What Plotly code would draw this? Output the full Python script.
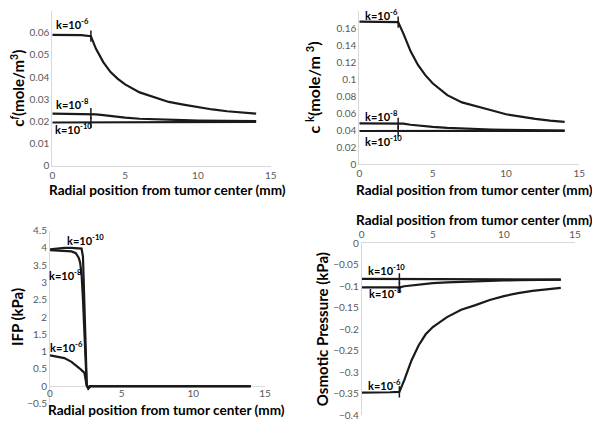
import plotly.graph_objects as go

# ---------------- data ----------------
x_c = [0, 1, 2, 2.65, 3, 3.5, 4, 4.5, 5, 6, 7, 8, 9, 10, 11, 12, 13, 14]
cf_k6 = [0.0591, 0.0591, 0.0590, 0.0585, 0.0528, 0.0468, 0.0423, 0.0392, 0.0367, 0.0331,
         0.0308, 0.0288, 0.0276, 0.0264, 0.0254, 0.0246, 0.0240, 0.0235]
cf_k8 = [0.0235, 0.0235, 0.0235, 0.0235, 0.0232, 0.0228, 0.0224, 0.0220, 0.0217, 0.0212,
         0.0209, 0.0207, 0.0206, 0.0204, 0.0203, 0.0202, 0.0201, 0.0201]
cf_k10 = [0.0195, 0.0195, 0.0195, 0.0195, 0.0195, 0.0196, 0.0196, 0.0196, 0.0196, 0.0197,
          0.0197, 0.0197, 0.0197, 0.0197, 0.0197, 0.0198, 0.0198, 0.0198]

ck_k6 = [0.1675, 0.1675, 0.1674, 0.1670, 0.1537, 0.1325, 0.1165, 0.1045, 0.0950, 0.0810,
         0.0725, 0.0675, 0.0632, 0.0585, 0.0555, 0.0530, 0.0510, 0.0495]
ck_k8 = [0.0479, 0.0479, 0.0479, 0.0479, 0.0474, 0.0462, 0.0452, 0.0444, 0.0437, 0.0425,
         0.0417, 0.0411, 0.0406, 0.0402, 0.0399, 0.0397, 0.0395, 0.0394]
ck_k10 = [0.0388, 0.0388, 0.0388, 0.0388, 0.0388, 0.0388, 0.0388, 0.0389, 0.0389, 0.0389,
          0.0389, 0.0389, 0.0390, 0.0390, 0.0390, 0.0390, 0.0390, 0.0390]

op_k6 = [-0.348, -0.348, -0.347, -0.346, -0.318, -0.273, -0.238, -0.212, -0.195, -0.172,
         -0.155, -0.144, -0.132, -0.123, -0.116, -0.111, -0.107, -0.104]
op_k8 = [-0.1025, -0.1025, -0.1025, -0.1025, -0.100, -0.098, -0.096, -0.0945, -0.093, -0.091,
         -0.0895, -0.088, -0.0872, -0.0865, -0.0860, -0.0855, -0.0850, -0.0847]
op_k10 = [-0.083, -0.083, -0.083, -0.083, -0.083, -0.083, -0.0832, -0.0833, -0.0835, -0.0837,
          -0.0839, -0.0840, -0.0841, -0.0842, -0.0843, -0.0844, -0.0845, -0.0845]

x_ifp = [0, 0.5, 1, 1.5, 1.8, 2.0, 2.1, 2.2, 2.3, 2.4, 2.5, 2.56, 2.67, 2.8, 3, 5, 10, 14]
ifp_k10 = [3.96, 3.99, 4.0, 4.0, 4.0, 4.0, 4.0, 3.98, 3.75, 2.6, 1.0, 0.05, -0.07, 0, 0, 0, 0, 0]
ifp_k8 = [3.94, 3.93, 3.92, 3.90, 3.85, 3.72, 3.58, 3.25, 2.5, 1.45, 0.5, 0.03, -0.07, 0, 0, 0, 0, 0]
ifp_k6 = [0.89, 0.86, 0.81, 0.70, 0.61, 0.54, 0.50, 0.46, 0.42, 0.38, 0.15, 0.02, -0.07, 0, 0, 0, 0, 0]

labels = ["k=10<sup>-6</sup>", "k=10<sup>-8</sup>", "k=10<sup>-10</sup>"]
x_title = "Radial position from tumor center (mm)"

FONT = "Lato"
LINE = "#1a1a1a"
AX = "#d9d9d9"
TICK = "#595959"

# page body has an 8px margin; figure size fits inside the 600x428 window
OFF = 8.0
W = 584.0
H = 420.0


def fx(px):
    return (px - OFF) / W


def fy(py):
    return 1 - (py - OFF) / H


fig = go.Figure()


def add_panel(xs, series, xa, ya, marks=True):
    for s in series:
        fig.add_trace(go.Scatter(x=xs, y=s, mode="lines", xaxis=xa, yaxis=ya,
                                 line=dict(color=LINE, width=2.2), showlegend=False,
                                 hoverinfo="skip"))
    if marks:
        fig.add_trace(go.Scatter(x=[xs[3]] * len(series), y=[s[3] for s in series],
                                 mode="markers", xaxis=xa, yaxis=ya, showlegend=False,
                                 marker=dict(symbol="line-ns", size=8,
                                             line=dict(color=LINE, width=1.5)),
                                 hoverinfo="skip"))


add_panel(x_c, [cf_k6, cf_k8, cf_k10], "x", "y")
add_panel(x_c, [ck_k6, ck_k8, ck_k10], "x2", "y2")
add_panel(x_ifp, [ifp_k6, ifp_k8, ifp_k10], "x3", "y3", marks=False)
add_panel(x_c, [op_k6, op_k8, op_k10], "x4", "y4")

tickfont = dict(family=FONT, size=10, color=TICK)
xtitlefont = dict(family=FONT, size=13.6, color="black", weight="bold")
ytitlefont = dict(family=FONT, size=15, color="black", weight="bold")

common_x = dict(range=[0, 15], dtick=5, showline=True, linecolor=AX, linewidth=1,
                showgrid=False, zeroline=False, ticks="", tickfont=tickfont,
                automargin=False)
common_y = dict(showline=True, linecolor=AX, linewidth=1, showgrid=False,
                zeroline=False, ticks="", tickfont=tickfont, automargin=False)

y3_lo, y3_hi = fy(403.3), fy(230.7)

fig.update_layout(
    width=int(W), height=int(H),
    margin=dict(l=0, r=0, t=0, b=0),
    paper_bgcolor="white", plot_bgcolor="white",
    xaxis=dict(common_x, domain=[fx(52.3), fx(270.7)], anchor="y"),
    yaxis=dict(common_y, domain=[fy(165.7), fy(10.7)], anchor="x",
               range=[0, 0.07], dtick=0.01,
               title=dict(text="c<sup><i>f</i></sup>(mole/m<sup>3</sup>)", font=ytitlefont,
                          standoff=7)),
    xaxis2=dict(common_x, domain=[fx(359.3), fx(579.3)], anchor="y2"),
    yaxis2=dict(common_y, domain=[fy(164), fy(11)], anchor="x2",
                range=[0, 0.18], dtick=0.02,
                title=dict(text="c <sup>k</sup>(mole/m <sup>3</sup>)",
                           font=dict(ytitlefont, size=16), standoff=11)),
    xaxis3=dict(common_x, domain=[fx(50), fx(265)], anchor="free", showline=False,
                position=y3_lo + 0.1 * (y3_hi - y3_lo)),
    yaxis3=dict(common_y, domain=[y3_lo, y3_hi], anchor="x3",
                range=[-0.5, 4.5], dtick=0.5, zeroline=True, zerolinecolor=AX,
                zerolinewidth=1,
                title=dict(text="IFP (kPa)", font=ytitlefont, standoff=11)),
    xaxis4=dict(common_x, domain=[fx(361.7), fx(575)], anchor="y4", side="top"),
    yaxis4=dict(common_y, domain=[fy(415), fy(243.3)], anchor="x4",
                range=[-0.4, 0], dtick=0.05,
                title=dict(text="Osmotic Pressure (kPa)", font=ytitlefont, standoff=0)),
)

# x-axis titles (placed as in the reference, slightly right of each axis centre)
for cx, cy in [(167.5, 190), (474, 190), (166, 410), (474, 220)]:
    fig.add_annotation(x=fx(cx), y=fy(cy), xref="paper", yref="paper", text=x_title,
                       showarrow=False, xanchor="center", yanchor="middle",
                       font=xtitlefont)

lab_font = dict(family=FONT, size=11, color="black", weight="bold")
label_pos = [
    ("x", "y", [(0.12, 0.0640, 0), (0.12, 0.0279, 0), (0.07, 0.0166, 0)]),
    ("x2", "y2", [(0.23, 0.1755, 0), (0.23, 0.0576, 0), (0.23, 0.0282, 0)]),
    ("x3", "y3", [(0, 1.15, -2), (0, 3.22, -3), (1.05, 4.24, 0)]),
    ("x4", "y4", [(0.3, -0.328, 0), (0.35, -0.1135, 0), (0.3, -0.060, 0)]),
]
for xa, ya, pts in label_pos:
    for txt, (lx, ly, sh) in zip(labels, pts):
        fig.add_annotation(x=lx, y=ly, xref=xa, yref=ya, text=txt, showarrow=False,
                           xanchor="left", yanchor="middle", xshift=sh, font=lab_font)

fig.write_html("out.html")
